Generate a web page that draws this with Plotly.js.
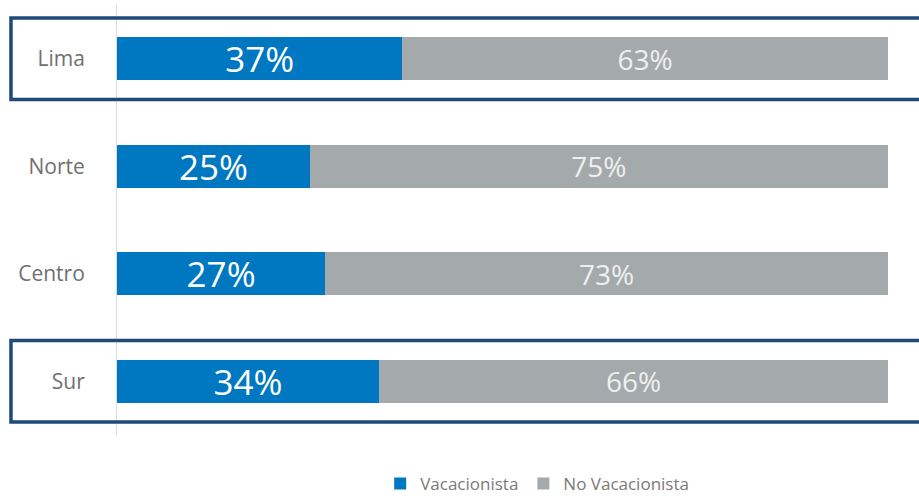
<!DOCTYPE html>
<html>
<head>
<meta charset="utf-8">
<script src="https://cdn.plot.ly/plotly-3.0.1.min.js"></script>
<style>
html,body{margin:0;padding:0;background:#fff;}
#chart{width:919px;height:498px;}
</style>
</head>
<body>
<div id="chart"></div>
<script>
const categories = ['Lima', 'Norte', 'Centro', 'Sur'];
const vacacionista = [37, 25, 27, 34];
const noVacacionista = [63, 75, 73, 66];
const highlighted = ['Lima', 'Sur'];
const seriesNames = ['Vacacionista', 'No Vacacionista'];

const FONT = '"Open Sans", "Noto Sans", sans-serif';

const traces = [
  {
    type: 'bar', orientation: 'h', name: seriesNames[0],
    y: categories, x: vacacionista,
    text: vacacionista.map(v => v + '%'),
    textposition: 'inside', insidetextanchor: 'middle', constraintext: 'none',
    textfont: {family: FONT, size: 35, color: '#ffffff'},
    marker: {color: '#0077c1'},
    width: 0.4, hoverinfo: 'none'
  },
  {
    type: 'bar', orientation: 'h', name: seriesNames[1],
    y: categories, x: noVacacionista,
    text: noVacacionista.map(v => v + '%'),
    textposition: 'inside', insidetextanchor: 'middle', constraintext: 'none',
    textfont: {family: FONT, size: 28, color: '#eef0f0'},
    marker: {color: '#a4a9ac'},
    width: 0.4, hoverinfo: 'none'
  }
];

const shapes = highlighted.map(c => {
  const i = categories.indexOf(c);
  return {
    type: 'rect', xref: 'paper', yref: 'y',
    x0: -0.1375, x1: 1.06, y0: i - 0.38, y1: i + 0.38,
    line: {color: '#1d4a78', width: 3.5}, fillcolor: 'rgba(0,0,0,0)',
    layer: 'above'
  };
});

const layout = {
  width: 919, height: 498,
  margin: {l: 117, r: 31, t: 5, b: 63, pad: 0, autoexpand: false},
  barmode: 'stack',
  paper_bgcolor: '#ffffff', plot_bgcolor: '#ffffff',
  showlegend: true,
  legend: {
    orientation: 'h', x: 0.545, xanchor: 'center', y: -0.114, yanchor: 'middle',
    font: {family: FONT, size: 17, color: '#7a7a7a'},
    traceorder: 'normal', itemwidth: 30
  },
  xaxis: {
    range: [0, 100], showgrid: false, zeroline: false, showline: false,
    showticklabels: false, fixedrange: true
  },
  yaxis: {
    type: 'category', categoryorder: 'array', categoryarray: categories,
    range: [3.5, -0.5], showgrid: false, zeroline: false,
    showline: true, linecolor: '#dcdcdc', linewidth: 1,
    ticks: 'outside', ticklen: 27, tickcolor: 'rgba(0,0,0,0)',
    tickfont: {family: FONT, size: 21, color: '#707070'},
    fixedrange: true
  },
  shapes: shapes
};

Plotly.newPlot('chart', traces, layout, {displayModeBar: false, staticPlot: true});
</script>
</body>
</html>
